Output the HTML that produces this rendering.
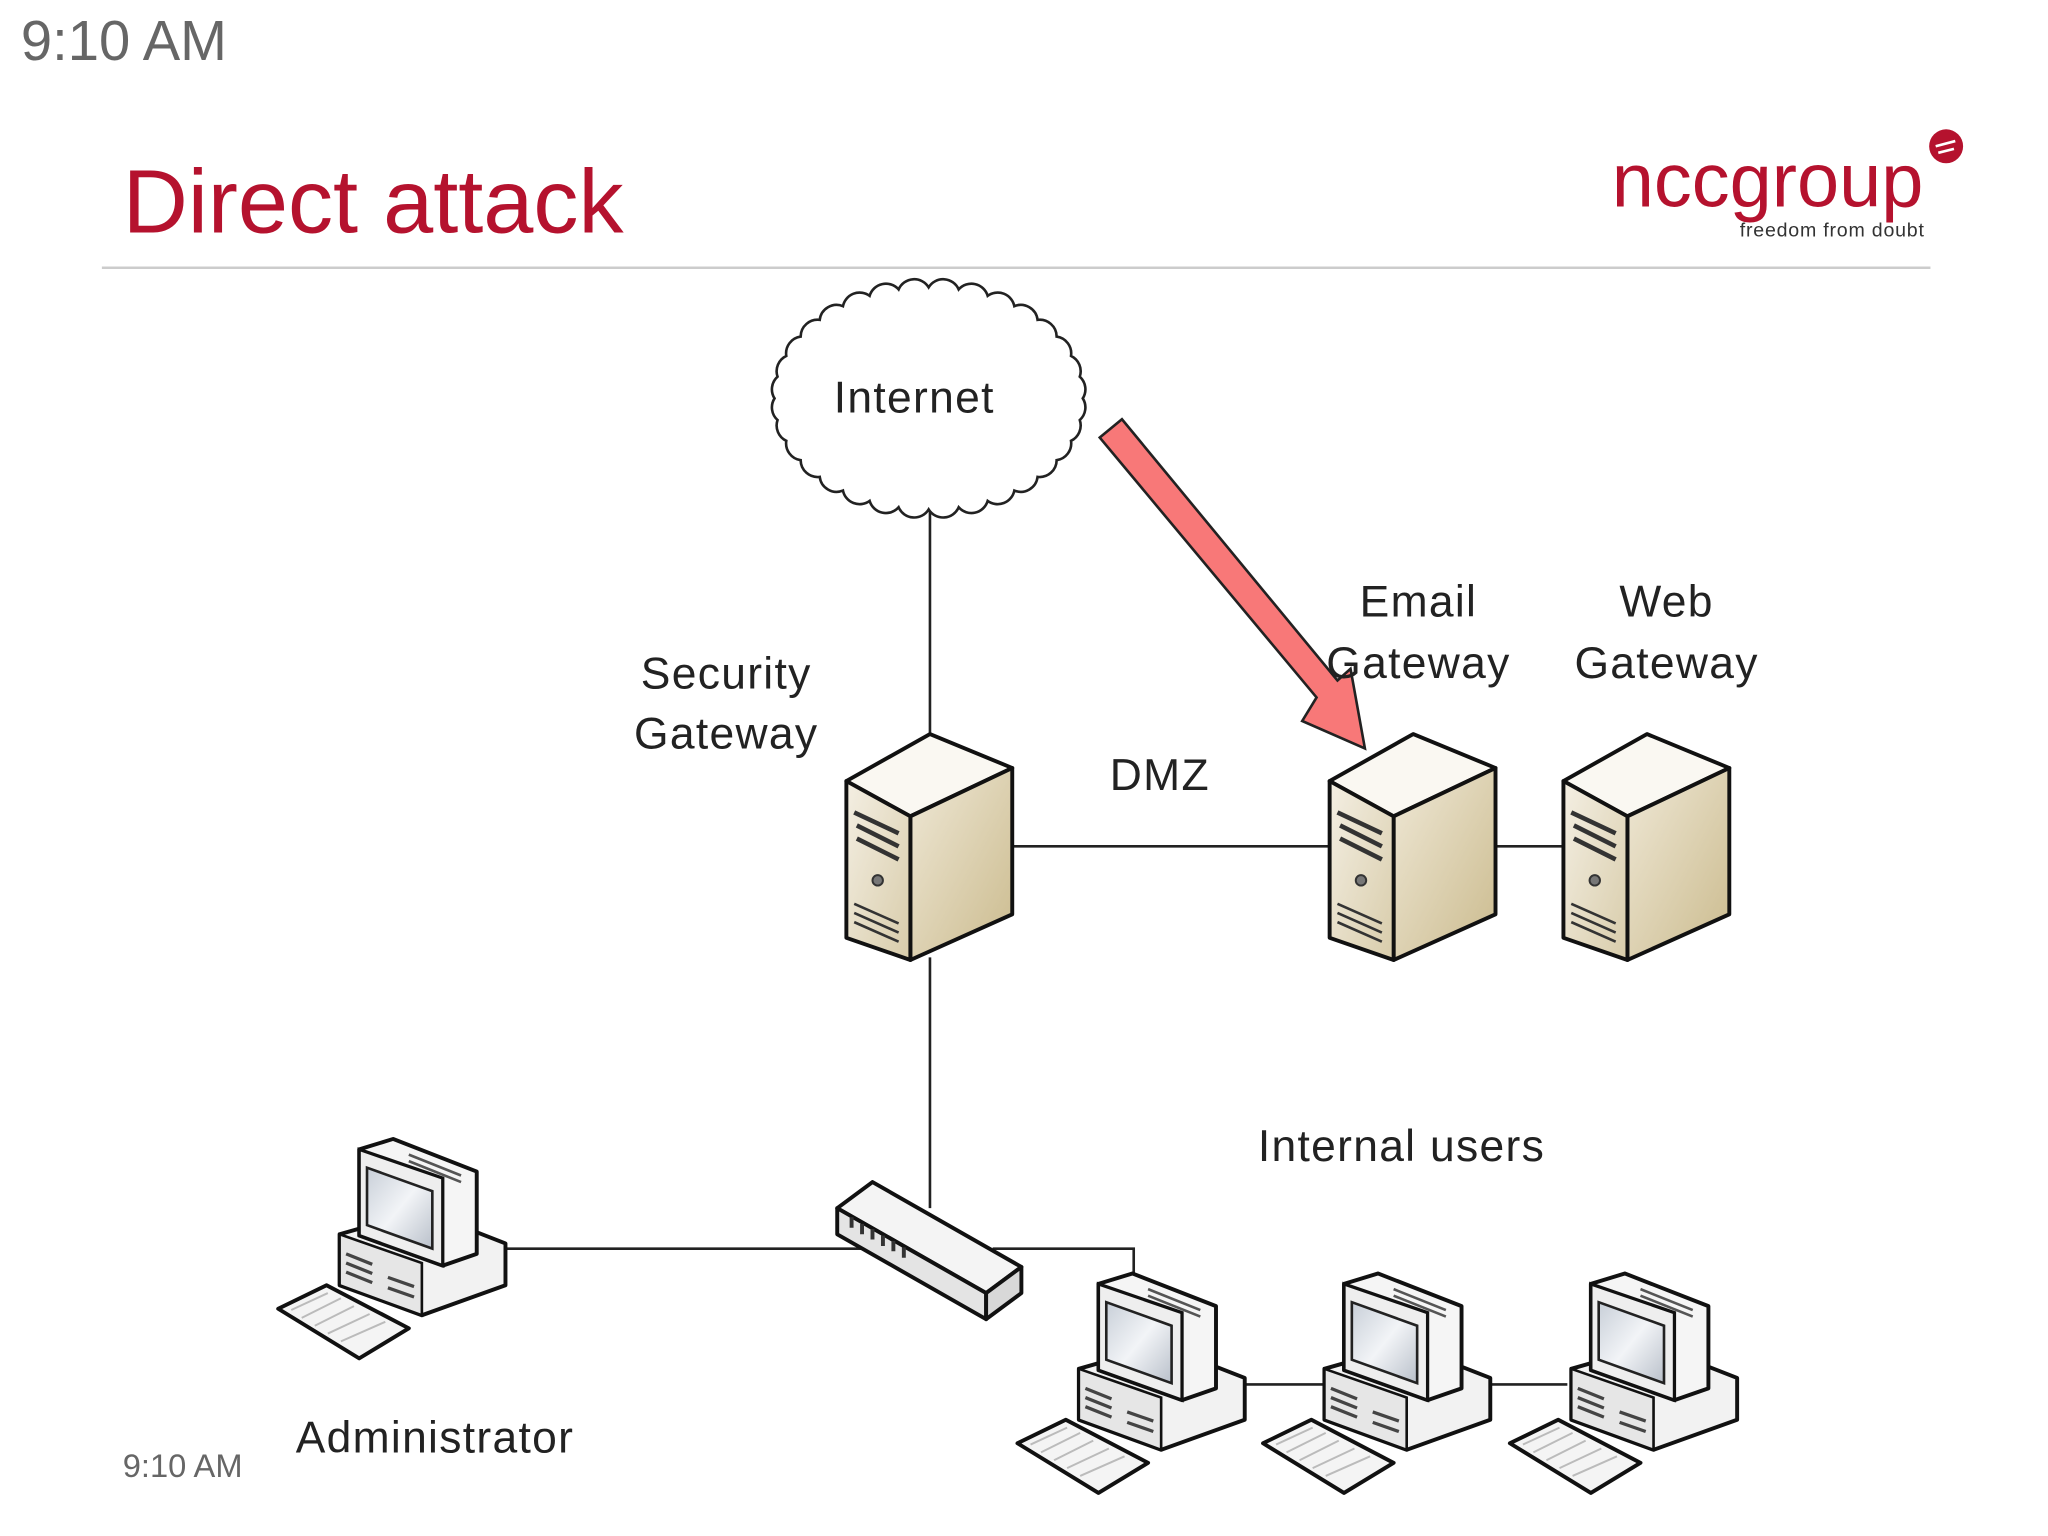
<!DOCTYPE html>
<html><head><meta charset="utf-8"><style>
html,body{margin:0;padding:0;background:#fff;}
svg{display:block;}
text{font-family:"Liberation Sans",sans-serif;}
</style></head><body>
<svg width="2048" height="1536" viewBox="0 0 1568 1176" xmlns="http://www.w3.org/2000/svg">
<defs>
<linearGradient id="sf" x1="0" y1="0" x2="1" y2="1"><stop offset="0" stop-color="#f4efe3"/><stop offset="1" stop-color="#d8ccaa"/></linearGradient>
<linearGradient id="ss" x1="0" y1="0" x2="1" y2="1"><stop offset="0" stop-color="#efe8d6"/><stop offset="1" stop-color="#cbbb8e"/></linearGradient>
<linearGradient id="scr" x1="0" y1="0" x2="1" y2="1"><stop offset="0" stop-color="#c8cfd8"/><stop offset="0.5" stop-color="#f2f4f7"/><stop offset="1" stop-color="#b9c0ca"/></linearGradient>
<symbol id="srv" overflow="visible">
 <polygon points="0,36 64,0 127,26 49,63" fill="#faf8f2" stroke="#111" stroke-width="3" stroke-linejoin="round"/>
 <polygon points="49,63 127,26 127,138 49,173" fill="url(#ss)" stroke="#111" stroke-width="3" stroke-linejoin="round"/>
 <polygon points="0,36 49,63 49,173 0,156" fill="url(#sf)" stroke="#111" stroke-width="3" stroke-linejoin="round"/>
 <path d="M6,60 L40,76 M8,70 L40,86 M8,80 L40,96" stroke="#333" stroke-width="3.5" fill="none"/>
 <circle cx="24" cy="112" r="4" fill="#777" stroke="#333" stroke-width="1.5"/>
 <path d="M6,130 L40,145 M6,137 L40,152 M6,144 L40,159" stroke="#333" stroke-width="2" fill="none"/>
</symbol>
<symbol id="pc" overflow="visible">
 <polygon points="47,73 110,55 174,80 174,112 110,135 47,112" fill="#f2f2f2" stroke="#111" stroke-width="3" stroke-linejoin="round"/>
 <polygon points="47,73 110,95 110,135 47,112" fill="#e6e6e6" stroke="#111" stroke-width="2"/>
 <path d="M52,88 L72,96 M52,95 L72,103 M52,102 L72,110 M84,106 L104,113 M84,114 L104,121" stroke="#444" stroke-width="2.5"/>
 <polygon points="62,8 88,0 152,25 152,88 126,97 62,74" fill="#f5f5f5" stroke="#111" stroke-width="3" stroke-linejoin="round"/>
 <polygon points="62,8 126,30 126,97 62,74" fill="#eee" stroke="#111" stroke-width="2.5"/>
 <polygon points="68,22 118,40 118,84 68,66" fill="url(#scr)" stroke="#222" stroke-width="2"/>
 <path d="M100,12 L140,28 M100,17 L140,33" stroke="#555" stroke-width="2"/>
 <polygon points="0,130 37,112 100,145 62,168" fill="#f4f4f4" stroke="#111" stroke-width="3" stroke-linejoin="round"/>
 <path d="M10,131 L38,118 M18,137 L48,122 M28,143 L58,128 M38,149 L70,134 M48,155 L82,140" stroke="#bbb" stroke-width="1.5"/>
</symbol>
</defs>

<text x="16" y="46" font-size="43" fill="#666">9:10 AM</text>
<text x="94" y="178" font-size="69" fill="#b5122e">Direct attack</text>
<line x1="78" y1="205" x2="1478" y2="205" stroke="#cccccc" stroke-width="2"/>
<text x="1234" y="158" font-size="58" fill="#b5122e" letter-spacing="0">nccgroup</text>
<circle cx="1490" cy="112" r="13" fill="#b5122e"/>
<path d="M1482,112 L1497,108 M1484,117 L1496,114" stroke="#fff" stroke-width="2"/>
<text x="1332" y="181" font-size="15" fill="#333" letter-spacing="0.6">freedom from doubt</text>

<g stroke="#222" stroke-width="2" fill="none">
 <line x1="712" y1="388" x2="712" y2="565"/>
 <line x1="712" y1="733" x2="712" y2="925"/>
 <line x1="775" y1="648" x2="1018" y2="648"/>
 <line x1="1145" y1="648" x2="1197" y2="648"/>
 <line x1="387" y1="956" x2="660" y2="956"/>
 <polyline points="760,956 868,956 868,980"/>
 <line x1="953" y1="1060" x2="1013" y2="1060"/>
 <line x1="1140" y1="1060" x2="1200" y2="1060"/>
</g>

<path d="M829,305 A13,13 0 0 1 826.7,321.6 A13,13 0 0 1 820,337.5 A13,13 0 0 1 809,352.3 A13,13 0 0 1 794.4,365.1 A13,13 0 0 1 776.6,375.6 A13,13 0 0 1 756.2,383.5 A13,13 0 0 1 734,388.4 A13,13 0 0 1 711,390 A13,13 0 0 1 688,388.4 A13,13 0 0 1 665.8,383.5 A13,13 0 0 1 645.4,375.6 A13,13 0 0 1 627.6,365.1 A13,13 0 0 1 613,352.3 A13,13 0 0 1 602,337.5 A13,13 0 0 1 595.3,321.6 A13,13 0 0 1 593,305 A13,13 0 0 1 595.3,288.4 A13,13 0 0 1 602,272.5 A13,13 0 0 1 613,257.7 A13,13 0 0 1 627.6,244.9 A13,13 0 0 1 645.4,234.4 A13,13 0 0 1 665.8,226.5 A13,13 0 0 1 688,221.6 A13,13 0 0 1 711,220 A13,13 0 0 1 734,221.6 A13,13 0 0 1 756.2,226.5 A13,13 0 0 1 776.6,234.4 A13,13 0 0 1 794.4,244.9 A13,13 0 0 1 809,257.7 A13,13 0 0 1 820,272.5 A13,13 0 0 1 826.7,288.4 A13,13 0 0 1 829,305 Z" fill="#fff" stroke="#222" stroke-width="2"/>
<text x="700" y="316" font-size="34" fill="#222" text-anchor="middle" letter-spacing="1">Internet</text>

<use href="#srv" x="648" y="562"/>
<use href="#srv" x="1018" y="562"/>
<use href="#srv" x="1197" y="562"/>

<polygon points="641,925 668,905 782,970 755,990" fill="#f4f4f4" stroke="#111" stroke-width="3" stroke-linejoin="round"/>
<polygon points="641,925 755,990 755,1010 641,945" fill="#e4e4e4" stroke="#111" stroke-width="3" stroke-linejoin="round"/>
<polygon points="755,990 782,970 782,990 755,1010" fill="#d8d8d8" stroke="#111" stroke-width="3" stroke-linejoin="round"/>
<path d="M652,932 l0,8 M660,937 l0,8 M668,941 l0,8 M676,946 l0,8 M684,950 l0,8 M692,955 l0,8" stroke="#333" stroke-width="3"/>

<use href="#pc" x="213" y="872"/>
<use href="#pc" x="779" y="975"/>
<use href="#pc" x="967" y="975"/>
<use href="#pc" x="1156" y="975"/>

<polygon points="842,335 859,321 1024,521 1034,512 1045,573 997,552 1008,534" fill="#f87878" stroke="#222" stroke-width="2"/>

<g font-size="34" fill="#222" text-anchor="middle" letter-spacing="1">
 <text x="556" y="527">Security</text>
 <text x="556" y="573">Gateway</text>
 <text x="888" y="605">DMZ</text>
 <text x="1086" y="472">Email</text>
 <text x="1086" y="519">Gateway</text>
 <text x="1276" y="472">Web</text>
 <text x="1276" y="519">Gateway</text>
 <text x="1073" y="889">Internal users</text>
 <text x="333" y="1112">Administrator</text>
</g>
<text x="94" y="1131" font-size="25" fill="#666">9:10 AM</text>
</svg>
</body></html>
